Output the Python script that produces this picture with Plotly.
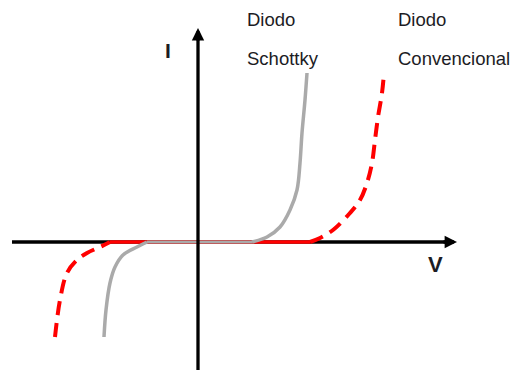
import plotly.graph_objects as go

# Axes in arbitrary units (V horizontal, I vertical)
# Schottky diode (gray)
sch_rev_v = [-94, -92, -88, -83, -75, -61, -51]
sch_rev_i = [-95, -68, -41, -25, -13, -5, 0]
sch_fwd_v = [54, 69, 82, 92, 99, 102, 104, 107, 109]
sch_fwd_i = [0, 5, 15, 32, 52, 79, 109, 142, 169]
# Conventional diode (red dashed)
con_rev_v = [-143, -138, -131, -121, -111, -98, -88]
con_rev_i = [-95, -58, -31, -18, -11, -5, 0]
con_fwd_v = [112, 122, 135, 152, 162, 169, 174, 177, 180, 184, 186]
con_fwd_i = [0, 4, 12, 29, 42, 59, 79, 102, 125, 149, 169]

labels_left = ["Diodo", "Schottky"]
labels_right = ["Diodo", "Convencional"]

X0, X1 = -198, 314
Y0, Y1 = -128, 242

fig = go.Figure()
# x axis line
fig.add_trace(go.Scatter(x=[-186, 250], y=[0, 0], mode="lines",
                         line=dict(color="black", width=3.3), hoverinfo="skip"))
# red
red = "#ff0000"
fig.add_trace(go.Scatter(x=[con_rev_v[-1], con_fwd_v[0]], y=[0, 0], mode="lines",
                         line=dict(color=red, width=3.5)))
fig.add_trace(go.Scatter(x=con_rev_v, y=con_rev_i, mode="lines",
                         line=dict(color=red, width=4, dash="14px,8px", shape="spline")))
fig.add_trace(go.Scatter(x=con_fwd_v, y=con_fwd_i, mode="lines",
                         line=dict(color=red, width=4, dash="14px,8px", shape="spline")))
# gray
gray = "#aaaaaa"
fig.add_trace(go.Scatter(x=[sch_rev_v[-1], sch_fwd_v[0]], y=[0, 0], mode="lines",
                         line=dict(color=gray, width=3)))
fig.add_trace(go.Scatter(x=sch_rev_v, y=sch_rev_i, mode="lines",
                         line=dict(color=gray, width=3.5, shape="spline")))
fig.add_trace(go.Scatter(x=sch_fwd_v, y=sch_fwd_i, mode="lines",
                         line=dict(color=gray, width=3.5, shape="spline")))
# y axis line
fig.add_trace(go.Scatter(x=[0, 0], y=[Y0, 205], mode="lines",
                         line=dict(color="black", width=3.3)))

ann = []
# arrowheads
ann.append(dict(x=259, y=0, ax=244, ay=0, xref="x", yref="y", axref="x", ayref="y",
                showarrow=True, arrowhead=2, arrowsize=0.75, arrowwidth=3.3, arrowcolor="black", text=""))
ann.append(dict(x=0, y=214, ax=0, ay=200, xref="x", yref="y", axref="x", ayref="y",
                showarrow=True, arrowhead=2, arrowsize=0.75, arrowwidth=3.3, arrowcolor="black", text=""))
font = dict(family="Liberation Sans, Arial", size=18.5, color="#1c1c24")
for i, t in enumerate(labels_left):
    ann.append(dict(x=47, y=[223, 184][i], text=t, xref="x", yref="y", showarrow=False,
                    xanchor="left", yanchor="middle", font=font))
for i, t in enumerate(labels_right):
    ann.append(dict(x=198, y=[223, 184][i], text=t, xref="x", yref="y", showarrow=False,
                    xanchor="left", yanchor="middle", font=font))
ann.append(dict(x=-30, y=192, text="<b>I</b>", xref="x", yref="y", showarrow=False,
                font=dict(family="Liberation Sans, Arial", size=21, color="#1c1c24")))
ann.append(dict(x=237, y=-22, text="<b>V</b>", xref="x", yref="y", showarrow=False,
                font=dict(family="Liberation Sans, Arial", size=22, color="#1c1c24")))

fig.update_layout(
    width=512, height=370, margin=dict(l=0, r=0, t=0, b=0),
    paper_bgcolor="white", plot_bgcolor="white", showlegend=False,
    xaxis=dict(range=[X0, X1], visible=False, fixedrange=True),
    yaxis=dict(range=[Y0, Y1], visible=False, fixedrange=True),
    annotations=ann,
)
fig.write_html("out.html", config={"displayModeBar": False},
               post_script="document.body.style.margin='0px';document.body.style.overflow='hidden';")
